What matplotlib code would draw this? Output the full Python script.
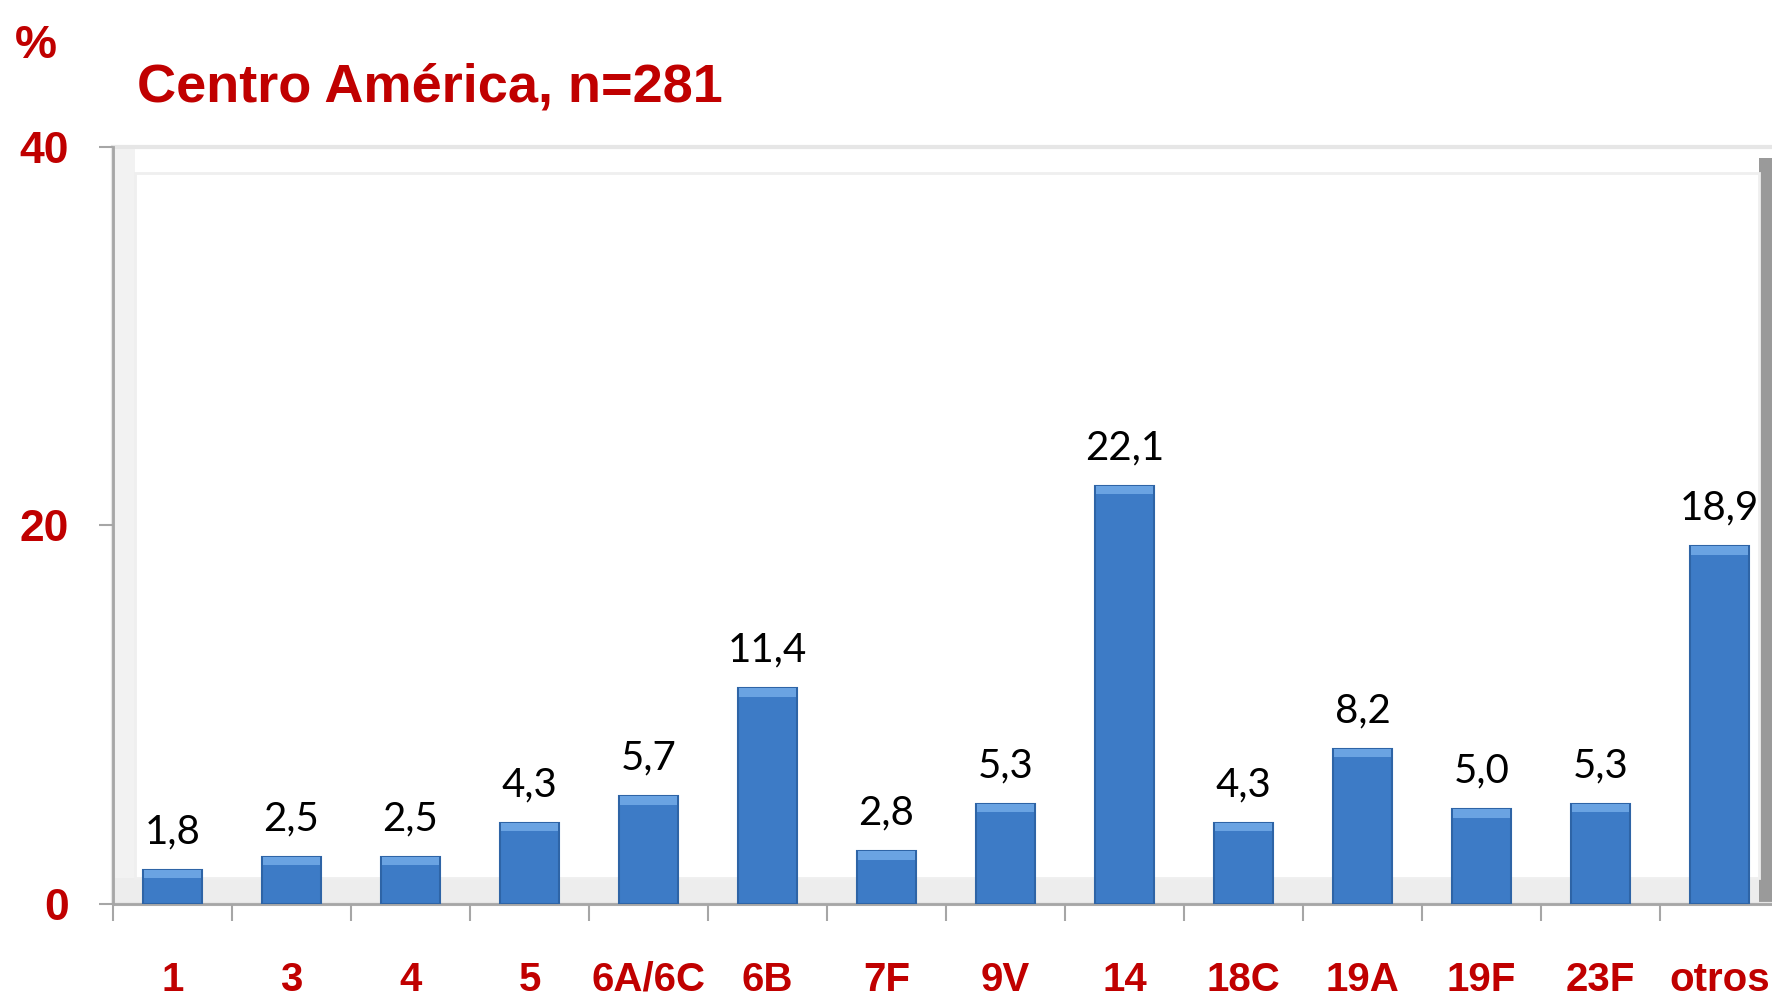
import matplotlib
matplotlib.use("Agg")
import matplotlib.pyplot as plt
from matplotlib.patches import Rectangle

categories = ["1", "3", "4", "5", "6A/6C", "6B", "7F", "9V", "14", "18C", "19A", "19F", "23F", "otros"]
values = [1.8, 2.5, 2.5, 4.3, 5.7, 11.4, 2.8, 5.3, 22.1, 4.3, 8.2, 5.0, 5.3, 18.9]
labels = ["1,8", "2,5", "2,5", "4,3", "5,7", "11,4", "2,8", "5,3", "22,1", "4,3", "8,2", "5,0", "5,3", "18,9"]
yticks = [0, 20, 40]
title = "Centro América, n=281"

RED = "#C00000"
NARROW = ["Liberation Sans", "DejaVu Sans"]
LABF = ["Lato", "Open Sans", "DejaVu Sans"]

W, H = 1772, 1001
fig = plt.figure(figsize=(W / 100, H / 100), dpi=100)
fig.patch.set_facecolor("white")

left = 113 / W
bottom = 1 - 904 / H
width = 14 * 119 / W
height = (904 - 147) / H
ax = fig.add_axes([left, bottom, width, height])
ax.set_xlim(-0.5, len(categories) - 0.5)
ax.set_ylim(0, 40)
ax.set_facecolor("white")

ax.add_patch(Rectangle((0, 0), 1, 1, transform=ax.transAxes, fill=False,
                       edgecolor="#E6E6E6", lw=3, zorder=0.5, clip_on=False))
ax.add_patch(Rectangle((0.013, 0.035), 0.975, 0.93, transform=ax.transAxes, fill=False,
                       edgecolor="#EFEFEF", lw=2, zorder=0.5))
ax.add_patch(Rectangle((0.0, 0.0), 0.013, 1.0, transform=ax.transAxes,
                       facecolor="#F2F2F2", edgecolor="none", zorder=0.4))
ax.add_patch(Rectangle((0.0, 0.0), 1.0, 0.035, transform=ax.transAxes,
                       facecolor="#EDEDED", edgecolor="none", zorder=0.4))
ax.add_patch(Rectangle((0.988, 0.0), 0.008, 0.985, transform=ax.transAxes,
                       facecolor="#9A9A9A", edgecolor="none", zorder=0.4))

x = list(range(len(categories)))
ax.bar(x, values, width=0.5, color="#3D7BC6", edgecolor="#2E64A6",
       linewidth=1.5, zorder=3)
bevel = 0.45
ax.bar(x, [bevel] * len(values), bottom=[v - bevel for v in values], width=0.48,
       color="#6AA3E2", edgecolor="none", linewidth=0, zorder=3.5)
for xi, v, lab in zip(x, values, labels):
    ax.annotate(lab, (xi, v), xytext=(0, 14), textcoords="offset points",
                ha="center", va="bottom", fontsize=29, color="black", family=LABF, zorder=4)

for s in ["top", "right"]:
    ax.spines[s].set_visible(False)
ax.spines["left"].set_color("#A6A6A6")
ax.spines["left"].set_linewidth(2)
ax.spines["bottom"].set_color("#A6A6A6")
ax.spines["bottom"].set_linewidth(2)

ax.set_yticks(yticks)
ax.set_yticklabels([str(t) for t in yticks], color=RED, fontsize=32,
                   fontweight="bold", family=NARROW)
ax.tick_params(axis="y", length=10, width=1.5, color="#A6A6A6", pad=22)

ax.set_xticks([i - 0.5 for i in range(len(categories) + 1)], minor=False)
ax.set_xticklabels([])
ax.tick_params(axis="x", length=12, width=1.5, color="#A6A6A6", direction="out")
ax.set_xticks(x, minor=True)
ax.set_xticklabels(categories, minor=True, color=RED, fontsize=29,
                   fontweight="bold", family=NARROW)
ax.tick_params(axis="x", which="minor", length=0, pad=41)

fig.text(15 / W, 1 - 58 / H, "%", color=RED, fontsize=34, fontweight="bold",
         family=NARROW, ha="left", va="baseline")
fig.text(137 / W, 1 - 102 / H, title, color=RED, fontsize=39, fontweight="bold",
         family=NARROW, ha="left", va="baseline")

fig.savefig("out.png", dpi=100, facecolor="white")
